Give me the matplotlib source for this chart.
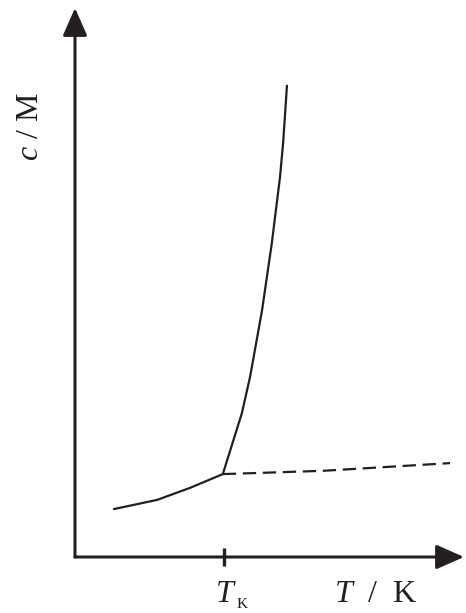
import matplotlib
matplotlib.use("Agg")
import matplotlib.pyplot as plt

plt.rcParams['mathtext.fontset'] = 'custom'
plt.rcParams['mathtext.rm'] = 'Liberation Serif'
plt.rcParams['mathtext.it'] = 'Liberation Serif:italic'

# Data (arbitrary units, axes 0..100)
T_krafft = 38.3
low_T = [9.8, 21.1, 29.6, 38.0]
low_c = [8.7, 10.4, 12.6, 15.1]
steep_T = [38.0, 42.9, 45.0, 48.1, 50.6, 52.7, 53.5, 54.5]
steep_c = [15.1, 26.2, 32.8, 45.0, 57.2, 69.2, 75.4, 86.0]
dash_T = [38.0, 63.8, 96.4]
dash_c = [15.1, 15.7, 17.1]

W, H = 466, 613
fig = plt.figure(figsize=(W / 100, H / 100), dpi=100)
x0, y0, x1, y1 = 75, 557, 464, 8
ax = fig.add_axes([x0 / W, (H - y0) / H, (x1 - x0) / W, (y0 - y1) / H])
ax.set_xlim(0, 100)
ax.set_ylim(0, 100)
for s in ax.spines.values():
    s.set_visible(False)
ax.set_yticks([])
ax.set_xticks([T_krafft])
ax.set_xticklabels([])
col = '#231f20'
ax.tick_params(axis='x', direction='inout', length=13, width=2.4, color=col)

arrow_kw = dict(arrowstyle='-|>,head_length=1.7,head_width=0.75', lw=2.2,
                color=col, mutation_scale=10, shrinkA=0, shrinkB=0)
ax.annotate('', xy=(1, 0), xytext=(0, 0), xycoords='axes fraction',
            arrowprops=arrow_kw, annotation_clip=False)
ax.annotate('', xy=(0, 1), xytext=(0, 0), xycoords='axes fraction',
            arrowprops=arrow_kw, annotation_clip=False)

ax.plot(low_T, low_c, color=col, lw=1.6, solid_capstyle='butt', clip_on=False)
ax.plot(steep_T, steep_c, color=col, lw=1.6, solid_capstyle='butt', clip_on=False)
ax.plot(dash_T, dash_c, color=col, lw=1.6, linestyle=(0, (6, 3)), clip_on=False)

fs = 23
fig.text(376 / W, 1 - 594 / H, r'$T$  /  K', ha='center', va='center',
         fontsize=fs, family='Liberation Serif', color=col)
fig.text(237 / W, 1 - 594 / H, r'$T$', ha='right', va='center',
         fontsize=fs, family='Liberation Serif', color=col)
fig.text(237 / W, 1 - 605 / H, 'K', ha='left', va='center',
         fontsize=11, family='Liberation Serif', color=col)
fig.text(30 / W, 1 - 127 / H, r'$c$ / M', ha='center', va='center', rotation=90,
         fontsize=fs, family='Liberation Serif', color=col)

fig.savefig('out.png', dpi=100)
